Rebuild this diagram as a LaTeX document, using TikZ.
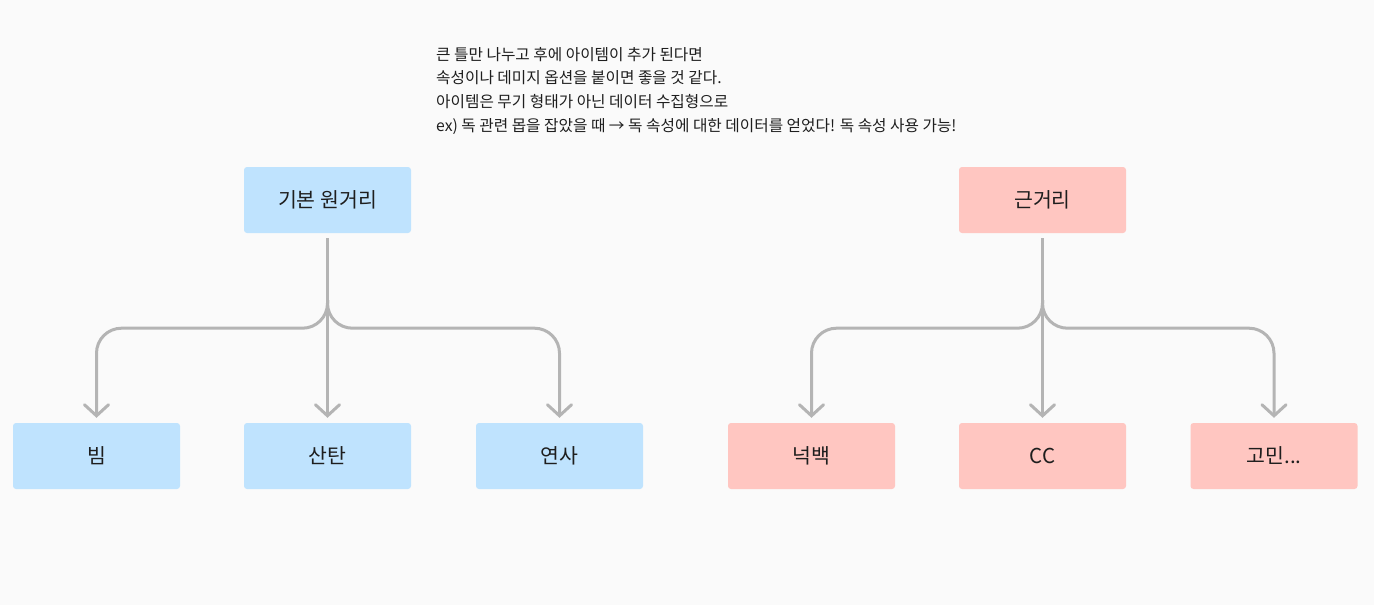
\documentclass[tikz,border=0pt]{standalone}
\usepackage{fontspec}
\setmainfont{Noto Sans CJK KR}
\usepackage{tikz}
\usetikzlibrary{arrows.meta,positioning}

\definecolor{bgcol}{HTML}{FAFAFA}
\definecolor{rangedcol}{HTML}{BFE3FE}
\definecolor{meleecol}{HTML}{FFC6C1}
\definecolor{linkcol}{HTML}{B4B4B4}
\definecolor{txtcol}{HTML}{1E1E1E}

\tikzset{
    catbox/.style={
        rectangle,
        rounded corners=3pt,
        minimum width=167pt,
        minimum height=66pt,
        inner sep=0pt,
        text=txtcol,
        font=\fontsize{20.5}{24}\selectfont
    },
    link/.style={
        -{Straight Barb[length=11pt,width=24pt,line cap=round]},
        line width=3pt,
        linkcol,
        rounded corners=25pt
    }
}

\begin{document}
\begin{tikzpicture}[x=1pt, y=-1pt]

% Fons

\fill[bgcol] (0,0) rectangle (1374,605);
\useasboundingbox (0,0) rectangle (1374,605);


% Nota

\node[
    anchor=north west,
    align=left,
    inner sep=0pt,
    text=txtcol,
    font=\fontsize{15.7}{23.6}\selectfont
] (note) at (436,47) {큰 틀만 나누고 후에 아이템이 추가 된다면\\
속성이나 데미지 옵션을 붙이면 좋을 것 같다.\\
아이템은 무기 형태가 아닌 데이터 수집형으로\\
ex) 독 관련 몹을 잡았을 때 → 독 속성에 대한 데이터를 얻었다! 독 속성 사용 가능!};


% 원거리

\node[catbox, fill=rangedcol] (ranged) at (327.5,200) {\raisebox{-2pt}{기본 원거리}};

\node[catbox, fill=rangedcol] (beam) at (96.5,456) {\raisebox{-2pt}{빔}};
\node[catbox, fill=rangedcol] (spread) at (327.5,456) {\raisebox{-2pt}{산탄}};
\node[catbox, fill=rangedcol] (rapid) at (559.5,456) {\raisebox{-2pt}{연사}};

\draw[link] ([yshift=-5pt]ranged.south) -- ([yshift=5pt]spread.north);
\draw[link] ([yshift=-67pt]ranged.south) -- ++(0,28) -| ([yshift=5pt]beam.north);
\draw[link] ([yshift=-67pt]ranged.south) -- ++(0,28) -| ([yshift=5pt]rapid.north);


% 근거리

\node[catbox, fill=meleecol] (melee) at (1042.5,200) {\raisebox{-2pt}{근거리}};

\node[catbox, fill=meleecol] (knock) at (811.5,456) {\raisebox{-2pt}{넉백}};
\node[catbox, fill=meleecol] (cc) at (1042.5,456) {\raisebox{-2pt}{CC}};
\node[catbox, fill=meleecol] (worry) at (1274,456) {\raisebox{-2pt}{고민...}};

\draw[link] ([yshift=-5pt]melee.south) -- ([yshift=5pt]cc.north);
\draw[link] ([yshift=-67pt]melee.south) -- ++(0,28) -| ([yshift=5pt]knock.north);
\draw[link] ([yshift=-67pt]melee.south) -- ++(0,28) -| ([yshift=5pt]worry.north);

\end{tikzpicture}
\end{document}
